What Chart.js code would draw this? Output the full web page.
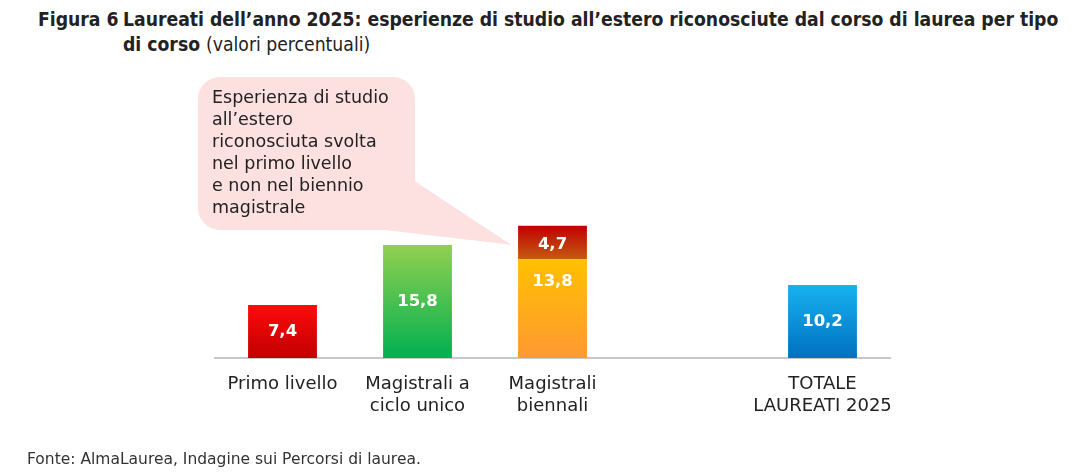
<!DOCTYPE html>
<html>
<head>
<meta charset="utf-8">
<script src="https://cdn.jsdelivr.net/npm/chart.js@4/dist/chart.umd.min.js"></script>
<style>
  html, body { margin: 0; padding: 0; background: #fff; }
  body { width: 1077px; height: 475px; position: relative; overflow: hidden; font-family: 'DejaVu Sans', sans-serif; }
  #title { position: absolute; left: 38px; top: 7px; width: 1039px; font: bold 19.2px 'DejaVu Sans Condensed', 'DejaVu Sans', sans-serif; color: #222; line-height: 25px; display: flex; white-space: nowrap; }
  #title .num { width: 85px; flex-shrink: 0; }
  #title .sub { font-weight: normal; }
  #source { position: absolute; left: 27px; top: 450px; font-size: 15.5px; color: #333; }
  #wrap { position: absolute; left: 0; top: 0; width: 1077px; height: 475px; }
</style>
</head>
<body>
<div id="title"><div class="num">Figura 6</div><div>Laureati dell’anno 2025: esperienze di studio all’estero riconosciute dal corso di laurea per tipo<br>di corso <span class="sub">(valori percentuali)</span></div></div>
<div id="wrap"><canvas id="chart"></canvas></div>
<div id="source">Fonte: AlmaLaurea, Indagine sui Percorsi di laurea.</div>
<script>
// categories (4th slot is an empty gap before the total)
const categories = ['Primo livello', ['Magistrali a', 'ciclo unico'], ['Magistrali', 'biennali'], '', ['TOTALE', 'LAUREATI 2025']];
const mainValues = [7.4, 15.8, 13.8, null, 10.2];
const primoLivelloValues = [null, null, 4.7, null, null];
const calloutLines = ['Esperienza di studio', 'all’estero', 'riconosciuta svolta', 'nel primo livello', 'e non nel biennio', 'magistrale'];

// gradient colours (top, bottom) per bar
const mainTop = ['#ff0a0a', '#92d050', '#ffc000', null, '#17b2f0'];
const mainBottom = ['#c00000', '#00b050', '#ff9933', null, '#0070c0'];
const extraTop = '#c00000', extraBottom = '#c55a11';

const fmt = v => v.toFixed(1).replace('.', ',');

function gradientFor(ctx, topCol, botCol) {
  const chart = ctx.chart;
  const y = chart.scales.y;
  if (!chart.chartArea || !y) return botCol;
  let base = 0;
  for (let d = 0; d < ctx.datasetIndex; d++) base += chart.data.datasets[d].data[ctx.dataIndex] || 0;
  const val = chart.data.datasets[ctx.datasetIndex].data[ctx.dataIndex] || 0;
  const g = chart.ctx.createLinearGradient(0, y.getPixelForValue(base + val), 0, y.getPixelForValue(base));
  g.addColorStop(0, topCol);
  g.addColorStop(1, botCol);
  return g;
}

const labelPlugin = {
  id: 'barLabels',
  afterDatasetsDraw(chart) {
    const c = chart.ctx;
    c.save();
    c.font = 'bold 16.5px "DejaVu Sans", sans-serif';
    c.fillStyle = '#fff';
    c.textAlign = 'center';
    c.textBaseline = 'middle';
    chart.data.datasets.forEach((ds, di) => {
      chart.getDatasetMeta(di).data.forEach((el, i) => {
        const v = ds.data[i];
        if (v == null) return;
        let y = (el.y + el.base) / 2;
        if (di === 0 && i === 2) y -= 27;
        if (di === 1) y += 2;
        c.fillText(fmt(v), el.x, y);
      });
    });
    c.restore();
  }
};

const calloutPlugin = {
  id: 'callout',
  afterDatasetsDraw(chart) {
    const c = chart.ctx;
    const el = chart.getDatasetMeta(1).data[2];
    const tipX = el.x - el.width / 2 - 7, tipY = el.y + 19;
    const x = 198, y = 77, w = 217, h = 153, r = 22;
    c.save();
    c.fillStyle = '#fde0e0';
    c.beginPath();
    c.moveTo(368, y + h - 2);
    c.lineTo(tipX, tipY);
    c.lineTo(x + w - 2, y + h - 50);
    c.closePath();
    c.fill();
    c.beginPath();
    c.roundRect(x, y, w, h, r);
    c.fill();
    c.fillStyle = '#222';
    c.font = '17.5px "DejaVu Sans", sans-serif';
    c.textBaseline = 'middle';
    calloutLines.forEach((t, i) => c.fillText(t, 212, 98 + i * 22));
    c.restore();
  }
};

new Chart(document.getElementById('chart'), {
  type: 'bar',
  data: {
    labels: categories,
    datasets: [
      {
        data: mainValues,
        backgroundColor: ctx => gradientFor(ctx, mainTop[ctx.dataIndex] || '#888', mainBottom[ctx.dataIndex] || '#888'),
        barPercentage: 0.51,
        categoryPercentage: 1
      },
      {
        data: primoLivelloValues,
        backgroundColor: ctx => gradientFor(ctx, extraTop, extraBottom),
        barPercentage: 0.51,
        categoryPercentage: 1
      }
    ]
  },
  options: {
    responsive: true,
    maintainAspectRatio: false,
    animation: false,
    layout: { padding: { left: 215, right: 187, top: 215, bottom: 0 } },
    plugins: { legend: { display: false }, tooltip: { enabled: false } },
    scales: {
      x: {
        stacked: true,
        grid: { display: false },
        border: { display: true, color: '#c8c8c8', width: 2 },
        ticks: { color: '#222', font: { size: 18, family: "'DejaVu Sans'" }, padding: 8, maxRotation: 0, autoSkip: false },
        afterFit(s) { s.height = 117; }
      },
      y: { stacked: true, display: false, min: 0, max: 20 }
    }
  },
  plugins: [labelPlugin, calloutPlugin]
});
</script>
</body>
</html>
